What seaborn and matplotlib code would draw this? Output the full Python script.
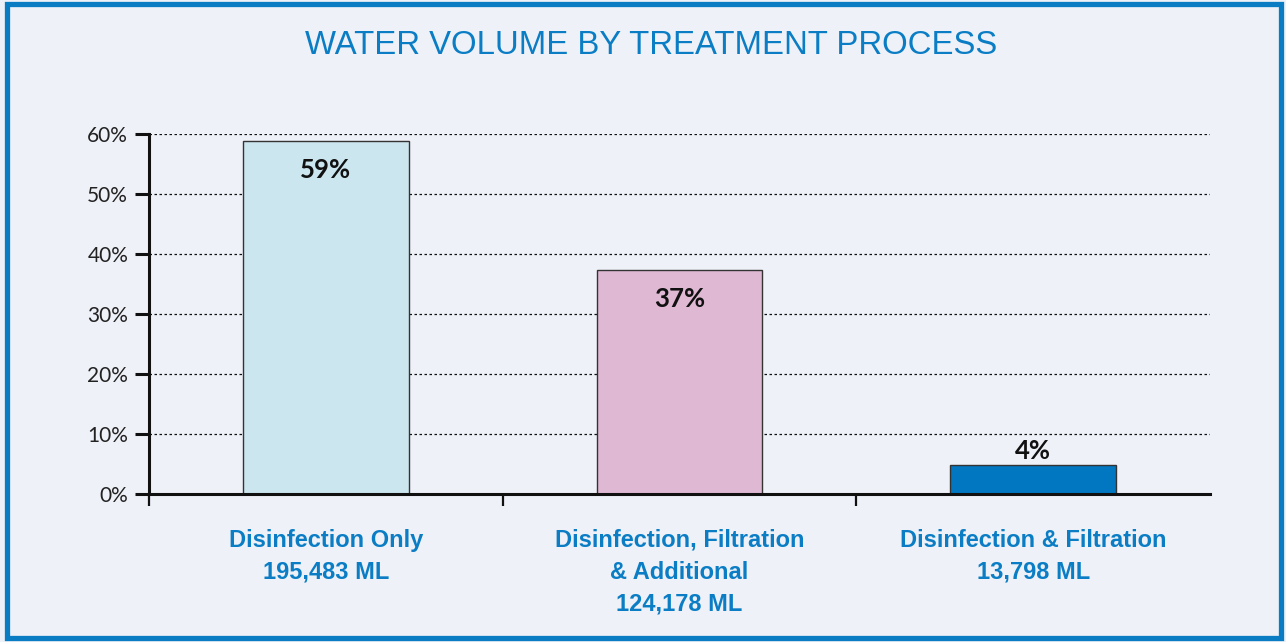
import matplotlib
matplotlib.use("Agg")
import matplotlib.pyplot as plt
import seaborn as sns
from matplotlib.patches import Rectangle

categories = ["Disinfection Only\n195,483 ML",
              "Disinfection, Filtration\n& Additional\n124,178 ML",
              "Disinfection & Filtration\n13,798 ML"]
values = [58.8, 37.3, 4.8]
labels = ["59%", "37%", "4%"]
bar_colors = ["#cce6f0", "#dfb9d4", "#0077c0"]
y_ticks = [0, 10, 20, 30, 40, 50, 60]
y_ticklabels = ["0%", "10%", "20%", "30%", "40%", "50%", "60%"]

BG = "#eef1f8"
BLUE = "#0a7dc5"

sns.set_theme(style="white")
plt.rcParams["font.family"] = ["Liberation Sans", "DejaVu Sans"]

fig = plt.figure(figsize=(12.86, 6.42), dpi=100, facecolor=BG)
ax = fig.add_axes([149/1286, 1-494/642, (1210-149)/1286, (494-134)/642])
ax.set_facecolor(BG)

sns.barplot(x=categories, y=values, hue=categories, palette=bar_colors,
            saturation=1, width=0.468, edgecolor="#333333", linewidth=1.0,
            legend=False, ax=ax, zorder=3)

ax.set_xlim(-0.5, 2.5)
ax.set_ylim(0, 60)

# gridlines
for yv in y_ticks[1:]:
    ax.axhline(yv, color="#111111", linestyle=(0, (2, 2)), linewidth=0.9, zorder=1)

ax.set_yticks(y_ticks)
ax.set_yticklabels(y_ticklabels, fontfamily="Lato", fontsize=15, color="#222222")
ax.tick_params(axis="y", direction="out", length=10, width=2.2, color="#111111", pad=5, left=True)

ax.set_xticks([-0.5, 0.5, 1.5])
ax.set_xticklabels(["", "", ""])
ax.tick_params(axis="x", which="major", direction="out", length=8.5, width=1.6, color="#111111", bottom=True)
ax.set_xticks([0, 1, 2], minor=True)
ax.set_xticklabels(categories, minor=True, fontsize=17, fontweight="bold", color=BLUE,
                   linespacing=1.5, va="top", ha="center")
ax.tick_params(axis="x", which="minor", length=0, pad=25)

for s in ["top", "right"]:
    ax.spines[s].set_visible(False)
for s in ["left", "bottom"]:
    ax.spines[s].set_color("#111111")
    ax.spines[s].set_linewidth(2.2)
    ax.spines[s].set_zorder(4)

for i, (v, lab) in enumerate(zip(values, labels)):
    if v > 10:
        ax.annotate(lab, (i, v), xytext=(0, -21), textcoords="offset points",
                    ha="center", va="center", fontsize=18.5, fontweight="bold",
                    fontfamily="Lato", color="#111111", zorder=5)
    else:
        ax.annotate(lab, (i, v), xytext=(0, 10), textcoords="offset points",
                    ha="center", va="center", fontsize=18.5, fontweight="bold",
                    fontfamily="Lato", color="#111111", zorder=5)

fig.text(651/1286, 1-45/642, "WATER VOLUME BY TREATMENT PROCESS", ha="center", va="center",
         fontsize=23.7, color=BLUE)

fig.patches.append(Rectangle((7/1286, 4/642), 1274/1286, 634/642, transform=fig.transFigure,
                             fill=False, edgecolor="#0a7cc4", linewidth=3.8, zorder=10))

fig.savefig("out.png", dpi=100, facecolor=BG)
